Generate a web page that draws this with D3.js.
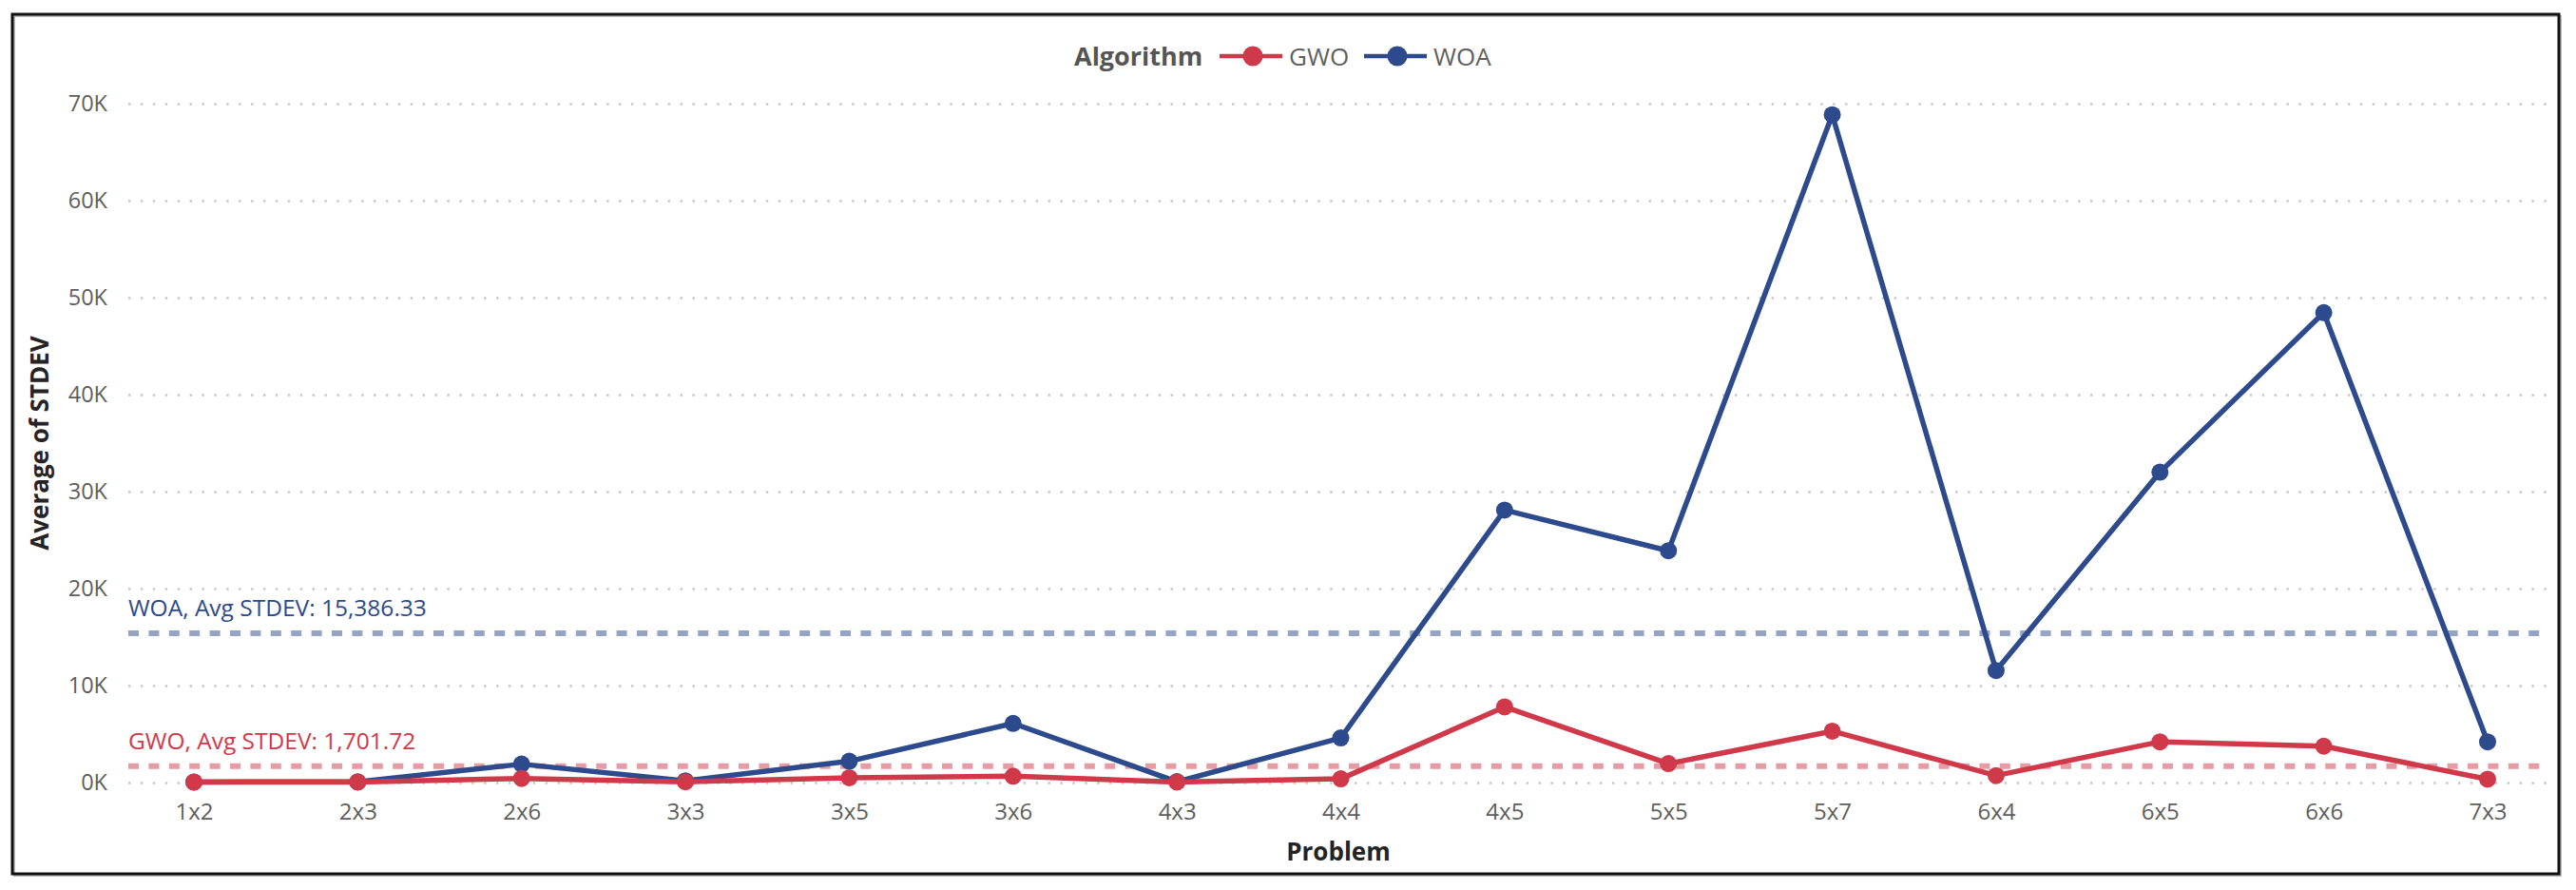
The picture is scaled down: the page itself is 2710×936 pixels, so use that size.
<!DOCTYPE html>
<html>
<head>
<meta charset="utf-8">
<script src="https://cdn.jsdelivr.net/npm/d3@7"></script>
<style>
  body { margin: 0; background: #fff; }
  svg { display: block; font-family: "Open Sans", "Noto Sans", sans-serif; }
</style>
</head>
<body>
<div id="chart"></div>
<script>
// data
var problems = ["1x2", "2x3", "2x6", "3x3", "3x5", "3x6", "4x3", "4x4", "4x5", "5x5", "5x7", "6x4", "6x5", "6x6", "7x3"];
var gwo = [40, 60, 420, 80, 500, 650, 60, 380, 7800, 1950, 5300, 720, 4200, 3750, 350];
var woa = [60, 70, 1900, 180, 2200, 6100, 90, 4600, 28100, 23900, 68850, 11550, 32000, 48450, 4200];
var yTicks = [0, 10000, 20000, 30000, 40000, 50000, 60000, 70000];
var avgGwo = 1701.72;
var avgWoa = 15386.33;

var W = 2710, H = 936;
var plotLeft = 135, plotRight = 2680, plotTop = 109, plotBottom = 823;

var red = "#D0394A", blue = "#2C4A8C";

var svg = d3.select("#chart").append("svg")
  .attr("width", W)
  .attr("height", H);

// frame
svg.append("rect")
  .attr("x", 15).attr("y", 17)
  .attr("width", 2679).attr("height", 904)
  .attr("fill", "none").attr("stroke", "#bdbdbd").attr("stroke-width", 2);
svg.append("rect")
  .attr("x", 13).attr("y", 15)
  .attr("width", 2679).attr("height", 904)
  .attr("fill", "none").attr("stroke", "#111").attr("stroke-width", 3);

var x = d3.scalePoint().domain(problems).range([204, 2617]);
var y = d3.scaleLinear().domain([0, 70000]).range([plotBottom, plotTop]);

// gridlines
svg.append("g")
  .attr("transform", "translate(" + plotLeft + ",0)")
  .call(d3.axisLeft(y).tickValues(yTicks).tickSize(-(plotRight - plotLeft)).tickFormat(""))
  .call(g => g.select(".domain").remove())
  .call(g => g.selectAll("line")
    .attr("stroke", "#c8c8c8")
    .attr("stroke-width", 2.5)
    .attr("stroke-dasharray", "2.5 10.4"));

// y tick labels
svg.append("g")
  .attr("transform", "translate(113,0)")
  .call(d3.axisLeft(y).tickValues(yTicks).tickSize(0).tickPadding(0).tickFormat(d => (d / 1000) + "K"))
  .call(g => g.select(".domain").remove())
  .call(g => g.selectAll("text")
    .attr("fill", "#605E5C")
    .style("font-size", "23.5px")
    .style("font-family", "'Open Sans', sans-serif"));

// x tick labels
svg.append("g")
  .attr("transform", "translate(0,845)")
  .call(d3.axisBottom(x).tickSize(0).tickPadding(0))
  .call(g => g.select(".domain").remove())
  .call(g => g.selectAll("text")
    .attr("fill", "#605E5C")
    .style("font-size", "24px")
    .style("font-family", "'Open Sans', sans-serif"));

// axis titles
svg.append("text")
  .attr("x", 1408).attr("y", 905)
  .attr("text-anchor", "middle")
  .attr("fill", "#252423")
  .style("font-size", "26px").style("font-weight", "bold")
  .text("Problem");

svg.append("text")
  .attr("transform", "translate(51," + ((plotTop + plotBottom) / 2) + ") rotate(-90)")
  .attr("text-anchor", "middle")
  .attr("fill", "#252423")
  .style("font-size", "26px").style("font-weight", "bold")
  .text("Average of STDEV");

// average lines
function avgLine(val, color, label) {
  svg.append("line")
    .attr("x1", plotLeft).attr("x2", plotRight)
    .attr("y1", y(val)).attr("y2", y(val))
    .attr("stroke", color).attr("stroke-opacity", 0.5)
    .attr("stroke-width", 6)
    .attr("stroke-dasharray", "11 10.4");
  svg.append("text")
    .attr("x", plotLeft).attr("y", y(val) - 18)
    .attr("fill", color)
    .style("font-size", "24.5px")
    .text(label);
}
avgLine(avgWoa, blue, "WOA, Avg STDEV: " + d3.format(",.2f")(avgWoa));
avgLine(avgGwo, red, "GWO, Avg STDEV: " + d3.format(",.2f")(avgGwo));

// series
var line = d3.line()
  .x((d, i) => x(problems[i]))
  .y(d => y(d));

function drawSeries(values, color) {
  svg.append("path")
    .datum(values)
    .attr("fill", "none")
    .attr("stroke", color)
    .attr("stroke-width", 5.5)
    .attr("stroke-linejoin", "round")
    .attr("d", line);
  svg.append("g")
    .selectAll("circle")
    .data(values)
    .enter()
    .append("circle")
      .attr("cx", (d, i) => x(problems[i]))
      .attr("cy", d => y(d))
      .attr("r", 9)
      .attr("fill", color);
}
drawSeries(woa, blue);
drawSeries(gwo, red);

// legend
var legend = svg.append("g");
legend.append("text")
  .attr("x", 1130).attr("y", 69)
  .attr("fill", "#555")
  .style("font-size", "27px").style("font-weight", "bold")
  .text("Algorithm");

var items = [
  {name: "GWO", color: red, x0: 1283},
  {name: "WOA", color: blue, x0: 1435}
];
items.forEach(function (it) {
  legend.append("line")
    .attr("x1", it.x0).attr("x2", it.x0 + 66)
    .attr("y1", 59).attr("y2", 59)
    .attr("stroke", it.color).attr("stroke-width", 4.5);
  legend.append("circle")
    .attr("cx", it.x0 + 35).attr("cy", 59)
    .attr("r", 10.5)
    .attr("fill", it.color);
  legend.append("text")
    .attr("x", it.x0 + 73).attr("y", 69)
    .attr("fill", "#5f5f5f")
    .style("font-size", "26px")
    .text(it.name);
});
</script>
</body>
</html>
